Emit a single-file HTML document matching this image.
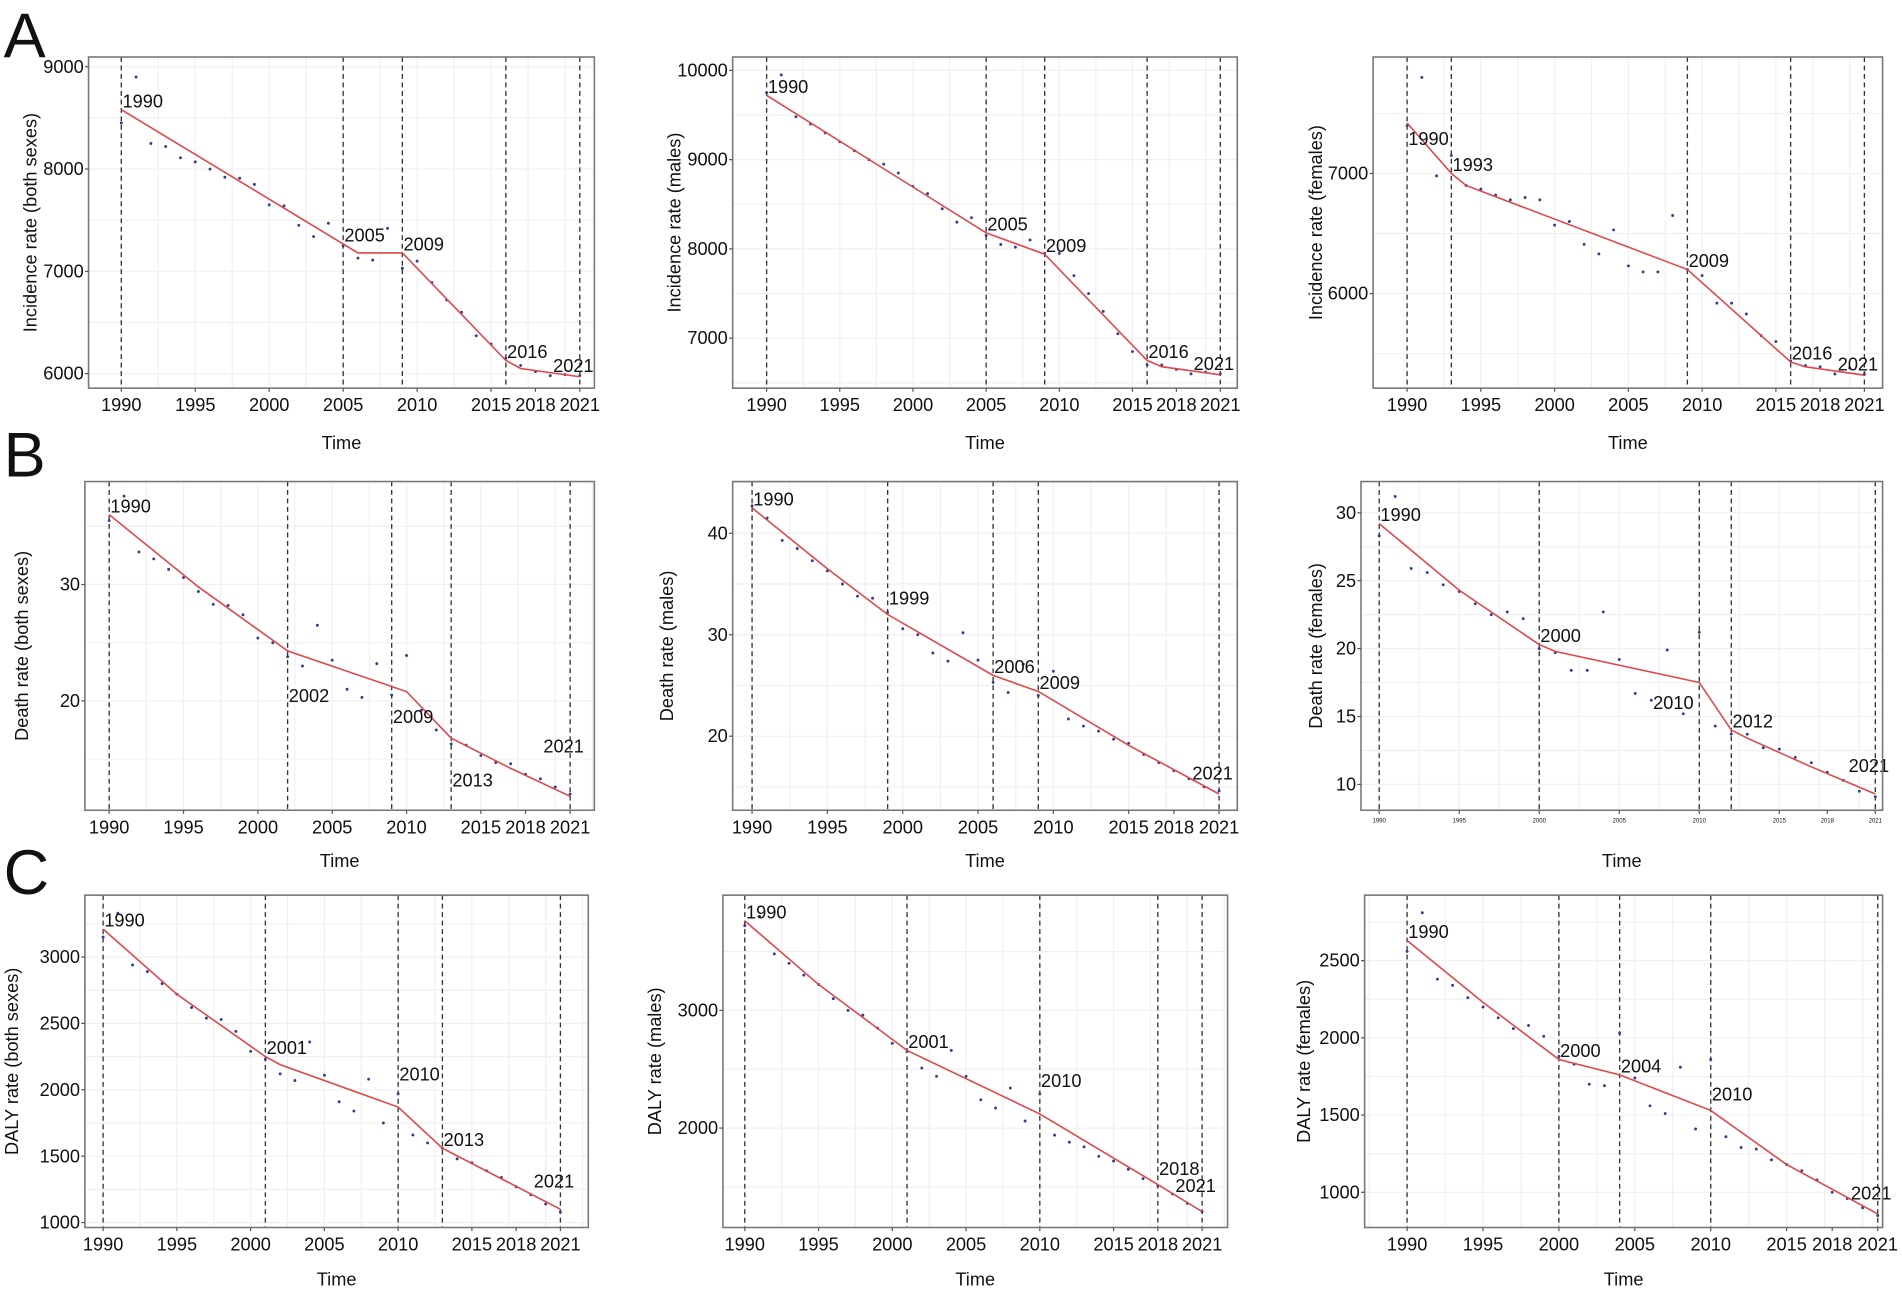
<!DOCTYPE html>
<html><head><meta charset="utf-8">
<style>
html,body{margin:0;padding:0;background:#fff;}
svg{display:block;}
text{font-family:"Liberation Sans",Arial,sans-serif;fill:#111;}
</style></head>
<body>
<svg id="fig" width="1902" height="1293" viewBox="0 0 1568 1066" preserveAspectRatio="none" xmlns="http://www.w3.org/2000/svg">
<text x="3" y="47" font-size="52">A</text>
<text x="3" y="393" font-size="52">B</text>
<text x="3" y="737" font-size="52">C</text>
</svg>
<script>
const years = [1990,1991,1992,1993,1994,1995,1996,1997,1998,1999,2000,2001,2002,2003,2004,2005,2006,2007,2008,2009,2010,2011,2012,2013,2014,2015,2016,2017,2018,2019,2020,2021];
const xTickLabels = [1990,1995,2000,2005,2010,2015,2018,2021];

const incBothValues = [8450,8900,8250,8220,8110,8070,8000,7920,7910,7850,7650,7640,7450,7340,7470,7250,7130,7110,7420,7030,7100,6890,6720,6600,6370,6290,6150,6080,6020,5980,5990,5980];
const incBothFitYears = [1990,2006,2009,2016,2017,2021];
const incBothFitValues = [8580,7180,7180,6130,6050,5970];
const incBothJoinYears = [1990,2005,2009,2016,2021];
const incBothYTicks = [6000,7000,8000,9000];

const incMaleValues = [9750,9950,9480,9400,9300,9200,9100,9000,8950,8850,8700,8620,8450,8300,8350,8150,8050,8020,8100,7950,7950,7700,7500,7300,7050,6850,6700,6700,6650,6600,6620,6600];
const incMaleFitYears = [1990,2005,2009,2016,2017,2021];
const incMaleFitValues = [9720,8180,7940,6750,6680,6590];
const incMaleJoinYears = [1990,2005,2009,2016,2021];
const incMaleYTicks = [7000,8000,9000,10000];

const incFemValues = [7400,7800,6980,7150,6900,6870,6820,6780,6800,6780,6570,6600,6410,6330,6530,6230,6180,6180,6650,6200,6150,5920,5920,5830,5650,5600,5440,5400,5390,5330,5380,5330];
const incFemFitYears = [1990,1993,1994,2009,2016,2017,2021];
const incFemFitValues = [7420,7000,6900,6200,5430,5390,5320];
const incFemJoinYears = [1990,1993,2009,2016,2021];
const incFemYTicks = [6000,7000];

const deathBothValues = [35.5,37.6,32.8,32.2,31.3,30.6,29.4,28.3,28.2,27.4,25.4,25.0,23.8,23.0,26.5,23.5,21.0,20.3,23.2,20.5,23.9,19.2,17.5,16.3,16.2,15.3,14.7,14.6,13.7,13.3,12.6,12.0];
const deathBothFitYears = [1990,1996,2002,2010,2013,2017,2021];
const deathBothFitValues = [36.0,29.8,24.3,20.8,16.8,14.2,11.8];
const deathBothJoinYears = [1990,2002,2009,2013,2021];
const deathBothYTicks = [20,30];

const deathMaleValues = [42.7,41.5,39.3,38.5,37.3,36.3,35.0,33.8,33.6,32.2,30.6,30.0,28.2,27.4,30.2,27.5,25.3,24.3,27.1,24.0,26.4,21.7,21.0,20.5,19.7,19.3,18.2,17.4,16.6,15.8,15.0,14.6];
const deathMaleFitYears = [1990,1995,1999,2006,2009,2015,2021];
const deathMaleFitValues = [42.5,36.5,32.0,26.0,24.4,19.1,14.3];
const deathMaleJoinYears = [1990,1999,2006,2009,2021];
const deathMaleYTicks = [20,30,40];

const deathFemValues = [28.3,31.2,25.9,25.6,24.7,24.2,23.3,22.5,22.7,22.2,20.0,19.7,18.4,18.4,22.7,19.2,16.7,16.2,19.9,15.2,21.2,14.3,13.7,13.7,12.7,12.6,12.0,11.6,10.9,10.3,9.5,9.1];
const deathFemFitYears = [1990,1995,2000,2001,2010,2012,2013,2017,2021];
const deathFemFitValues = [29.2,24.3,20.3,19.8,17.5,14.0,13.4,11.3,9.3];
const deathFemJoinYears = [1990,2000,2010,2012,2021];
const deathFemYTicks = [10,15,20,25,30];

const dalyBothValues = [3150,3330,2940,2890,2800,2720,2620,2540,2530,2440,2290,2230,2120,2070,2360,2110,1910,1840,2080,1750,1970,1660,1600,1560,1480,1450,1390,1340,1270,1210,1140,1080];
const dalyBothFitYears = [1990,1995,2001,2002,2010,2013,2021];
const dalyBothFitValues = [3210,2720,2250,2190,1870,1560,1100];
const dalyBothJoinYears = [1990,2001,2010,2013,2021];
const dalyBothYTicks = [1000,1500,2000,2500,3000];

const dalyMaleValues = [3720,3800,3480,3400,3300,3220,3100,3000,2960,2850,2720,2650,2510,2440,2660,2440,2240,2170,2340,2060,2290,1940,1880,1840,1760,1720,1650,1570,1510,1440,1360,1290];
const dalyMaleFitYears = [1990,1995,2001,2010,2018,2021];
const dalyMaleFitValues = [3760,3220,2660,2120,1520,1290];
const dalyMaleJoinYears = [1990,2001,2010,2018,2021];
const dalyMaleYTicks = [2000,3000];

const dalyFemValues = [2560,2810,2380,2340,2260,2200,2130,2060,2080,2010,1880,1830,1700,1690,2030,1740,1560,1510,1810,1410,1860,1360,1290,1280,1210,1180,1140,1080,1000,960,900,850];
const dalyFemFitYears = [1990,1995,2000,2004,2010,2015,2021];
const dalyFemFitValues = [2630,2230,1860,1760,1530,1180,860];
const dalyFemJoinYears = [1990,2000,2004,2010,2021];
const dalyFemYTicks = [1000,1500,2000,2500];

const NS = "http://www.w3.org/2000/svg";
const fig = document.getElementById('fig');
function mk(tag, attrs, parent){
  const e = document.createElementNS(NS, tag);
  for (const k in attrs) e.setAttribute(k, attrs[k]);
  (parent||fig).appendChild(e);
  return e;
}
function interp(xs, ys, x){
  for (let i=0;i<xs.length-1;i++){
    if (x>=xs[i] && x<=xs[i+1]) return ys[i]+(ys[i+1]-ys[i])*(x-xs[i])/(xs[i+1]-xs[i]);
  }
  return x<xs[0]?ys[0]:ys[ys.length-1];
}

function panel(cfg){
  const g = mk('g', {});
  
  
  const [L,T,R,B] = cfg.box;
  const sx = y => cfg.x1990 + (y-1990)*(cfg.x2021-cfg.x1990)/31;
  const sy = v => B - (v-cfg.yMin)*(B-T)/(cfg.yMax-cfg.yMin);
  const yt = cfg.yTicks;
  const step = yt.length>1 ? yt[1]-yt[0] : 1000;
  for (let v = yt[0]-step; v <= yt[yt.length-1]+step; v += step/2){
    if (v<cfg.yMin||v>cfg.yMax) continue;
    const ln = mk('line',{x1:L,x2:R,y1:sy(v),y2:sy(v),stroke:'#f0f0f0','stroke-width':1},g);
    
    
  }
  for (let yr=1987.5; yr<=2022.5; yr+=2.5){
    const x = sx(yr);
    if (x<L||x>R) continue;
    const ln = mk('line',{x1:x,x2:x,y1:T,y2:B,stroke:'#f0f0f0','stroke-width':1},g);
    
    
  }
  cfg.join.forEach(yr=>{
    const ln = mk('line',{x1:sx(yr),x2:sx(yr),y1:T,y2:B,stroke:'#333','stroke-width':1.1,'stroke-dasharray':'4,3'},g);
    
    
  });
  years.forEach((yr,i)=>{
    const c = mk('circle',{cx:sx(yr),cy:sy(cfg.values[i]),r:1.2,fill:'#3a3a8a'},g);
    
    
  });
  const pts = cfg.fitYears.map((yr,i)=>sx(yr).toFixed(1)+','+sy(cfg.fitValues[i]).toFixed(1)).join(' ');
  const pl = mk('polyline',{points:pts,fill:'none',stroke:'#e0464a','stroke-width':1.3},g);
  
  
  const dyMap = cfg.labelDy || {};
  const dxMap = cfg.labelDx || {};
  cfg.join.forEach((yr,i)=>{
    const v = interp(cfg.fitYears,cfg.fitValues,yr);
    let dy = (yr in dyMap) ? dyMap[yr] : (yr===2021 ? -12 : -2);
    let dx = (yr in dxMap) ? dxMap[yr] : (yr===2021 ? -22 : 1);
    const t = mk('text',{x:sx(yr)+dx,y:sy(v)+dy,'font-size':15},g);
    t.textContent = yr;
    
    
  });
  const fr = mk('rect',{x:L,y:T,width:R-L,height:B-T,fill:'none',stroke:'#777','stroke-width':1.3},g);
  
  
  yt.forEach(v=>{
    mk('line',{x1:L-3,x2:L,y1:sy(v),y2:sy(v),stroke:'#555'},g);
    const t = mk('text',{x:L-4,y:sy(v)+5,'font-size':15,'text-anchor':'end'},g);
    t.textContent = v;
    
    
  });
  xTickLabels.forEach(yr=>{
    mk('line',{x1:sx(yr),x2:sx(yr),y1:B,y2:B+3,stroke:'#555'},g);
    const t = mk('text',{x:sx(yr),y:B+(cfg.tinyX?10:19),'font-size':cfg.tinyX?5:15,'text-anchor':'middle',fill:cfg.tinyX?'#777':'#111'},g);
    t.textContent = yr;
    
    
  });
  const xt = mk('text',{x:(L+R)/2,y:cfg.xTitleY,'font-size':15,'text-anchor':'middle'},g);
  xt.textContent = 'Time';
  
  
  const cy = (T+B)/2;
  const ytl = mk('text',{x:cfg.yTitleX,y:cy,'font-size':15,'text-anchor':'middle',transform:'rotate(-90 '+cfg.yTitleX+' '+cy+')'},g);
  ytl.textContent = cfg.yTitle;
  
  
}

panel({name:'panel-incidence-both',box:[73,47,490,320],x1990:100,x2021:478,yMin:5858,yMax:9095,yTicks:incBothYTicks,values:incBothValues,fitYears:incBothFitYears,fitValues:incBothFitValues,join:incBothJoinYears,labelDy:{2021:-4},yTitle:'Incidence rate (both sexes)',yTitleX:30,xTitleY:370});
panel({name:'panel-incidence-males',box:[604,47,1020,320],x1990:632,x2021:1006,yMin:6440,yMax:10150,yTicks:incMaleYTicks,values:incMaleValues,fitYears:incMaleFitYears,fitValues:incMaleFitValues,join:incMaleJoinYears,labelDy:{2021:-4},yTitle:'Incidence rate (males)',yTitleX:561,xTitleY:370});
panel({name:'panel-incidence-females',box:[1132,47,1552,320],x1990:1160,x2021:1537,yMin:5212,yMax:7970,yTicks:incFemYTicks,values:incFemValues,fitYears:incFemFitYears,fitValues:incFemFitValues,join:incFemJoinYears,labelDy:{2021:-4,1990:18},yTitle:'Incidence rate (females)',yTitleX:1090,xTitleY:370});

panel({name:'panel-death-both',box:[70,397,490,668],x1990:90,x2021:470,yMin:10.6,yMax:38.85,yTicks:deathBothYTicks,values:deathBothValues,fitYears:deathBothFitYears,fitValues:deathBothFitValues,join:deathBothJoinYears,labelDy:{2002:42,2009:30,2013:40,2021:-36},yTitle:'Death rate (both sexes)',yTitleX:23,xTitleY:715});
panel({name:'panel-death-males',box:[604,397,1020,668],x1990:620,x2021:1005,yMin:12.7,yMax:45.1,yTicks:deathMaleYTicks,values:deathMaleValues,fitYears:deathMaleFitYears,fitValues:deathMaleFitValues,join:deathMaleJoinYears,labelDy:{1999:-8,2021:-12},yTitle:'Death rate (males)',yTitleX:555,xTitleY:715});
panel({name:'panel-death-females',box:[1122,397,1552,668],x1990:1137,x2021:1546,yMin:8.1,yMax:32.3,yTicks:deathFemYTicks,values:deathFemValues,fitYears:deathFemFitYears,fitValues:deathFemFitValues,join:deathFemJoinYears,labelDx:{2010:-38},labelDy:{2010:22,2021:-18},tinyX:true,yTitle:'Death rate (females)',yTitleX:1090,xTitleY:715});

panel({name:'panel-daly-both',box:[70,738,485,1012],x1990:85,x2021:462,yMin:963,yMax:3466,yTicks:dalyBothYTicks,values:dalyBothValues,fitYears:dalyBothFitYears,fitValues:dalyBothFitValues,join:dalyBothJoinYears,labelDy:{2010:-22,2021:-18},yTitle:'DALY rate (both sexes)',yTitleX:15,xTitleY:1060});
panel({name:'panel-daly-males',box:[596,738,1012,1012],x1990:614,x2021:991,yMin:1155,yMax:3979,yTicks:dalyMaleYTicks,values:dalyMaleValues,fitYears:dalyMaleFitYears,fitValues:dalyMaleFitValues,join:dalyMaleJoinYears,labelDy:{2010:-22,2018:-8,2021:-16},yTitle:'DALY rate (males)',yTitleX:545,xTitleY:1060});
panel({name:'panel-daly-females',box:[1125,738,1552,1012],x1990:1160,x2021:1548,yMin:772,yMax:2924,yTicks:dalyFemYTicks,values:dalyFemValues,fitYears:dalyFemFitYears,fitValues:dalyFemFitValues,join:dalyFemJoinYears,labelDy:{2010:-8,2021:-12},yTitle:'DALY rate (females)',yTitleX:1080,xTitleY:1060});
</script>
</body></html>
